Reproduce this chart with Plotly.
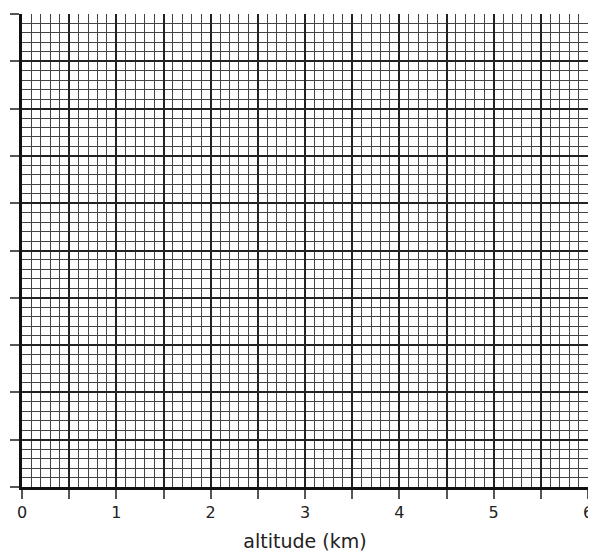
import plotly.graph_objects as go

x_ticks = [0, 0.5, 1, 1.5, 2, 2.5, 3, 3.5, 4, 4.5, 5, 5.5, 6]
x_labels = ['0', '', '1', '', '2', '', '3', '', '4', '', '5', '', '6']
y_ticks = [0, 1, 2, 3, 4, 5, 6, 7, 8, 9, 10]

fig = go.Figure()
fig.add_trace(go.Scatter(x=[], y=[], mode='markers', showlegend=False))

fig.update_layout(
    width=596, height=552,
    margin=dict(l=14, r=16, t=6, b=73, autoexpand=False),
    paper_bgcolor='white', plot_bgcolor='white',
    font=dict(family='DejaVu Sans', size=16, color='#222'),
)
fig.update_xaxes(
    range=[0, 6], tickvals=x_ticks, ticktext=x_labels, automargin=False,
    ticks='outside', ticklen=9, tickcolor='#555', tickwidth=1.5,
    showgrid=True, gridcolor='#222', gridwidth=1.6,
    minor=dict(dtick=0.1, showgrid=True, gridcolor='#444', gridwidth=0.9),
    showline=True, linecolor='#111', linewidth=2.5,
    title=dict(text='altitude (km)', standoff=14),
    zeroline=False,
)
fig.update_yaxes(
    range=[0, 10], tickvals=y_ticks, ticktext=[''] * len(y_ticks), automargin=False,
    ticks='outside', ticklen=9, tickcolor='#555', tickwidth=1.5,
    showgrid=True, gridcolor='#222', gridwidth=1.6,
    minor=dict(dtick=0.2, showgrid=True, gridcolor='#444', gridwidth=0.9),
    showline=True, linecolor='#111', linewidth=2.5,
    zeroline=False,
)

fig.write_html("out.html")
